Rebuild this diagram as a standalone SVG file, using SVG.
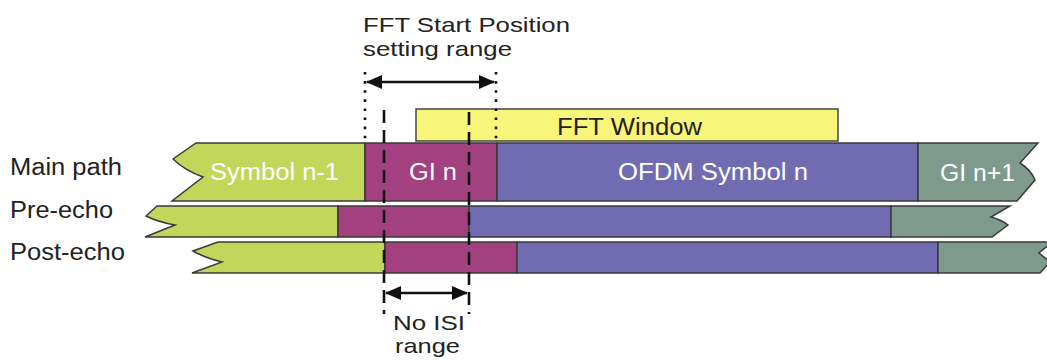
<svg xmlns="http://www.w3.org/2000/svg" width="1047" height="360" viewBox="0 0 1047 360">
<style>
  .lbl { font-family: "Liberation Sans", Arial, sans-serif; font-size: 23px; fill: #222; }
  .two { font-size: 21px; }
  .in { font-family: "Liberation Sans", Arial, sans-serif; font-size: 23px; fill: #ffffff; }
  .seg { stroke: #3a3a3a; stroke-width: 1.5; stroke-linejoin: miter; }
  .sym0 { fill: #c2d65a; }
  .gi { fill: #a34080; }
  .ofdm { fill: #716cb1; }
  .gi1 { fill: #7e9a8c; }
  .win { fill: #f8f57b; stroke: #444; stroke-width: 1.5; }
  .dash { stroke: #111; stroke-width: 2.6; stroke-dasharray: 13 7; fill: none; }
  .dot { stroke: #111; stroke-width: 2.6; stroke-dasharray: 2.6 6.5; fill: none; }
  .arr { stroke: #111; stroke-width: 2.6; fill: none; marker-start: url(#ah); marker-end: url(#ah); }
</style>
<defs>
  <marker id="ah" viewBox="0 0 16 14" refX="15" refY="7" markerWidth="16" markerHeight="14" markerUnits="userSpaceOnUse" orient="auto-start-reverse">
    <path d="M0,0 L16,7 L0,14 Z" fill="#111"/>
  </marker>
</defs>
<rect width="1047" height="360" fill="#ffffff"/>

<g id="title">
  <text class="lbl two" x="363" y="32" textLength="207" lengthAdjust="spacingAndGlyphs">FFT Start Position</text>
  <text class="lbl two" x="363" y="56" textLength="149" lengthAdjust="spacingAndGlyphs">setting range</text>
</g>

<g id="row-labels">
  <text class="lbl" x="10" y="175" textLength="112" lengthAdjust="spacingAndGlyphs">Main path</text>
  <text class="lbl" x="10" y="218" textLength="103" lengthAdjust="spacingAndGlyphs">Pre-echo</text>
  <text class="lbl" x="10" y="260" textLength="115" lengthAdjust="spacingAndGlyphs">Post-echo</text>
</g>

<g id="fft-window">
  <rect class="win" x="416" y="109" width="422" height="32"/>
  <text class="lbl" x="557" y="135" textLength="145" lengthAdjust="spacingAndGlyphs">FFT Window</text>
</g>

<g id="main-path">
  <g id="main-sym">
    <path class="seg sym0" d="M196,143 H365 V201 H172 L203,177 Q184,170 173,159 Z"/>
    <text class="in" x="210" y="180" textLength="129" lengthAdjust="spacingAndGlyphs">Symbol n-1</text>
  </g>
  <g id="main-gi">
    <rect class="seg gi" x="365" y="143" width="132" height="58"/>
    <text class="in" x="409" y="180" textLength="48" lengthAdjust="spacingAndGlyphs">GI n</text>
  </g>
  <g id="main-ofdm">
    <rect class="seg ofdm" x="497" y="143" width="421" height="58"/>
    <text class="in" x="618" y="180" textLength="190" lengthAdjust="spacingAndGlyphs">OFDM Symbol n</text>
  </g>
  <g id="main-gi1">
    <path class="seg gi1" d="M918,143 H1038 L1020,163 Q1031,170 1035,180 L1017,201 H918 Z"/>
    <text class="in" x="940" y="181" textLength="75" lengthAdjust="spacingAndGlyphs">GI n+1</text>
  </g>
</g>

<g id="pre-echo">
  <path id="pre-sym" class="seg sym0" d="M157,206 H338 V237 H145 L175,225 Q158,222 146,216 Z"/>
  <rect id="pre-gi" class="seg gi" x="338" y="206" width="131" height="31"/>
  <rect id="pre-ofdm" class="seg ofdm" x="469" y="206" width="422" height="31"/>
  <path id="pre-gi1" class="seg gi1" d="M891,206 H1010 L991,217 Q1002,220 1008,225 L992,237 H891 Z"/>
</g>

<g id="post-echo">
  <path id="post-sym" class="seg sym0" d="M218,242 H385 V273 H192 L222,262 Q205,258 193,251 Z"/>
  <rect id="post-gi" class="seg gi" x="385" y="242" width="132" height="31"/>
  <rect id="post-ofdm" class="seg ofdm" x="517" y="242" width="421" height="31"/>
  <path id="post-gi1" class="seg gi1" d="M938,242 H1052 L1039,253 Q1045,258 1050,262 L1040,273 H938 Z"/>
</g>

<g id="no-isi-label">
  <text class="lbl two" x="393" y="330" textLength="72" lengthAdjust="spacingAndGlyphs">No ISI</text>
  <text class="lbl two" x="395" y="353" textLength="65" lengthAdjust="spacingAndGlyphs">range</text>
</g>

<g id="connectors">
  <line class="dot" x1="365" y1="72" x2="365" y2="140"/>
  <line class="dot" x1="496" y1="72" x2="496" y2="140"/>
  <line class="dash" x1="384" y1="110" x2="384" y2="314"/>
  <line class="dash" x1="469" y1="112" x2="469" y2="314"/>
  <line class="arr" x1="367" y1="82" x2="494" y2="82"/>
  <line class="arr" x1="386" y1="293" x2="467" y2="293"/>
</g>
</svg>
